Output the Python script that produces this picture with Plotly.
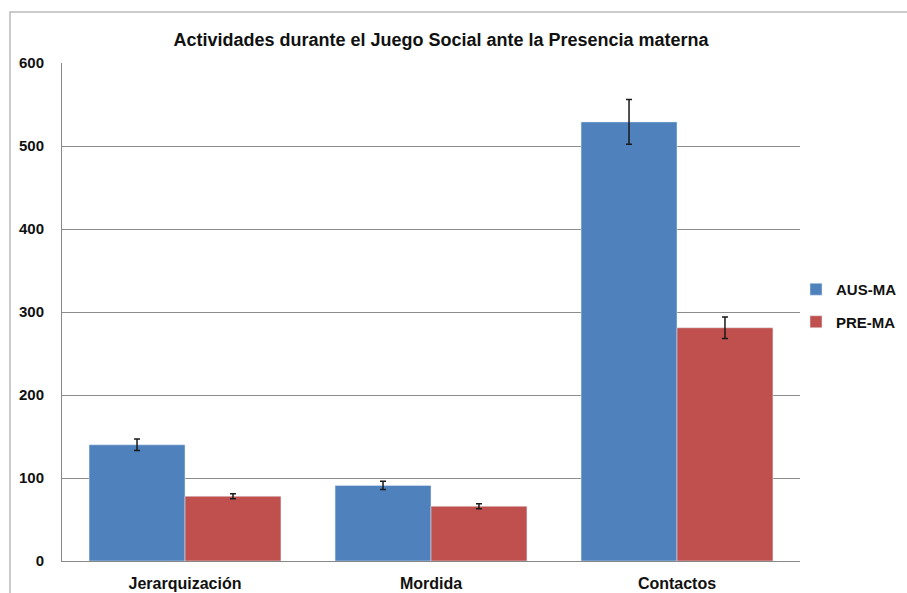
import plotly.graph_objects as go

categories = ["Jerarquización", "Mordida", "Contactos"]
aus_ma = [140, 91, 529]
aus_ma_err = [7, 5, 27]
pre_ma = [78, 66, 281]
pre_ma_err = [3, 3, 13]

BLUE = "#4F81BD"
RED = "#C0504D"
FONT = "Liberation Sans"

fig = go.Figure()
fig.add_trace(go.Bar(
    x=categories, y=aus_ma, name="<b>AUS-MA</b>", marker_color=BLUE, legendgroup="a",
    error_y=dict(type="data", array=aus_ma_err, color="#1a1a1a", thickness=1.5, width=3),
))
fig.add_trace(go.Bar(
    x=categories, y=pre_ma, name="<b>PRE-MA</b>", marker_color=RED, legendgroup="b",
    error_y=dict(type="data", array=pre_ma_err, color="#1a1a1a", thickness=1.5, width=3),
))

W, H = 907, 593
L, R, T, B = 62, 800, 63, 561

fig.update_layout(
    width=W, height=H,
    margin=dict(l=L, r=W - R, t=T, b=H - B, autoexpand=False),
    plot_bgcolor="white", paper_bgcolor="white",
    barmode="group", bargap=0.22, bargroupgap=0,
    font=dict(family=FONT, size=14, color="#111"),
    title=dict(text="<b>Actividades durante el Juego Social ante la Presencia materna</b>",
               x=441 / W, xanchor="center", y=1 - 40 / H, yanchor="middle",
               font=dict(size=18, family=FONT, color="#111")),
    legend=dict(x=(796 - L) / (R - L), y=(B - 273) / (B - T), xanchor="left", yanchor="top",
                font=dict(size=15, family=FONT), itemwidth=30, tracegroupgap=10,
                traceorder="grouped", bgcolor="rgba(0,0,0,0)"),
    showlegend=True,
    xaxis=dict(showline=True, linecolor="#888", linewidth=1, ticks="",
               automargin=False, tickfont=dict(size=16, family=FONT),
               ticklabelstandoff=8,
               tickvals=categories,
               ticktext=["<b>%s</b>" % c for c in categories]),
    yaxis=dict(range=[0, 600], dtick=100, showgrid=True, gridcolor="#8c8c8c",
               gridwidth=1, showline=True, linecolor="#888", linewidth=1,
               ticks="", automargin=False, tickfont=dict(size=15, family=FONT),
               tickprefix="<b>", ticksuffix="</b>", zeroline=False, ticklabelstandoff=14),
)

# outer chart border like the Excel frame
fig.add_shape(type="rect", xref="paper", yref="paper",
              x0=(10 - L) / (R - L), x1=(W + 5 - L) / (R - L),
              y0=(B - (H + 5)) / (B - T), y1=(B - 12) / (B - T),
              line=dict(color="#bbbbbb", width=1.5), layer="below")

fig.write_html("out.html", config={"displayModeBar": False},
               post_script="document.body.style.margin='0';")
